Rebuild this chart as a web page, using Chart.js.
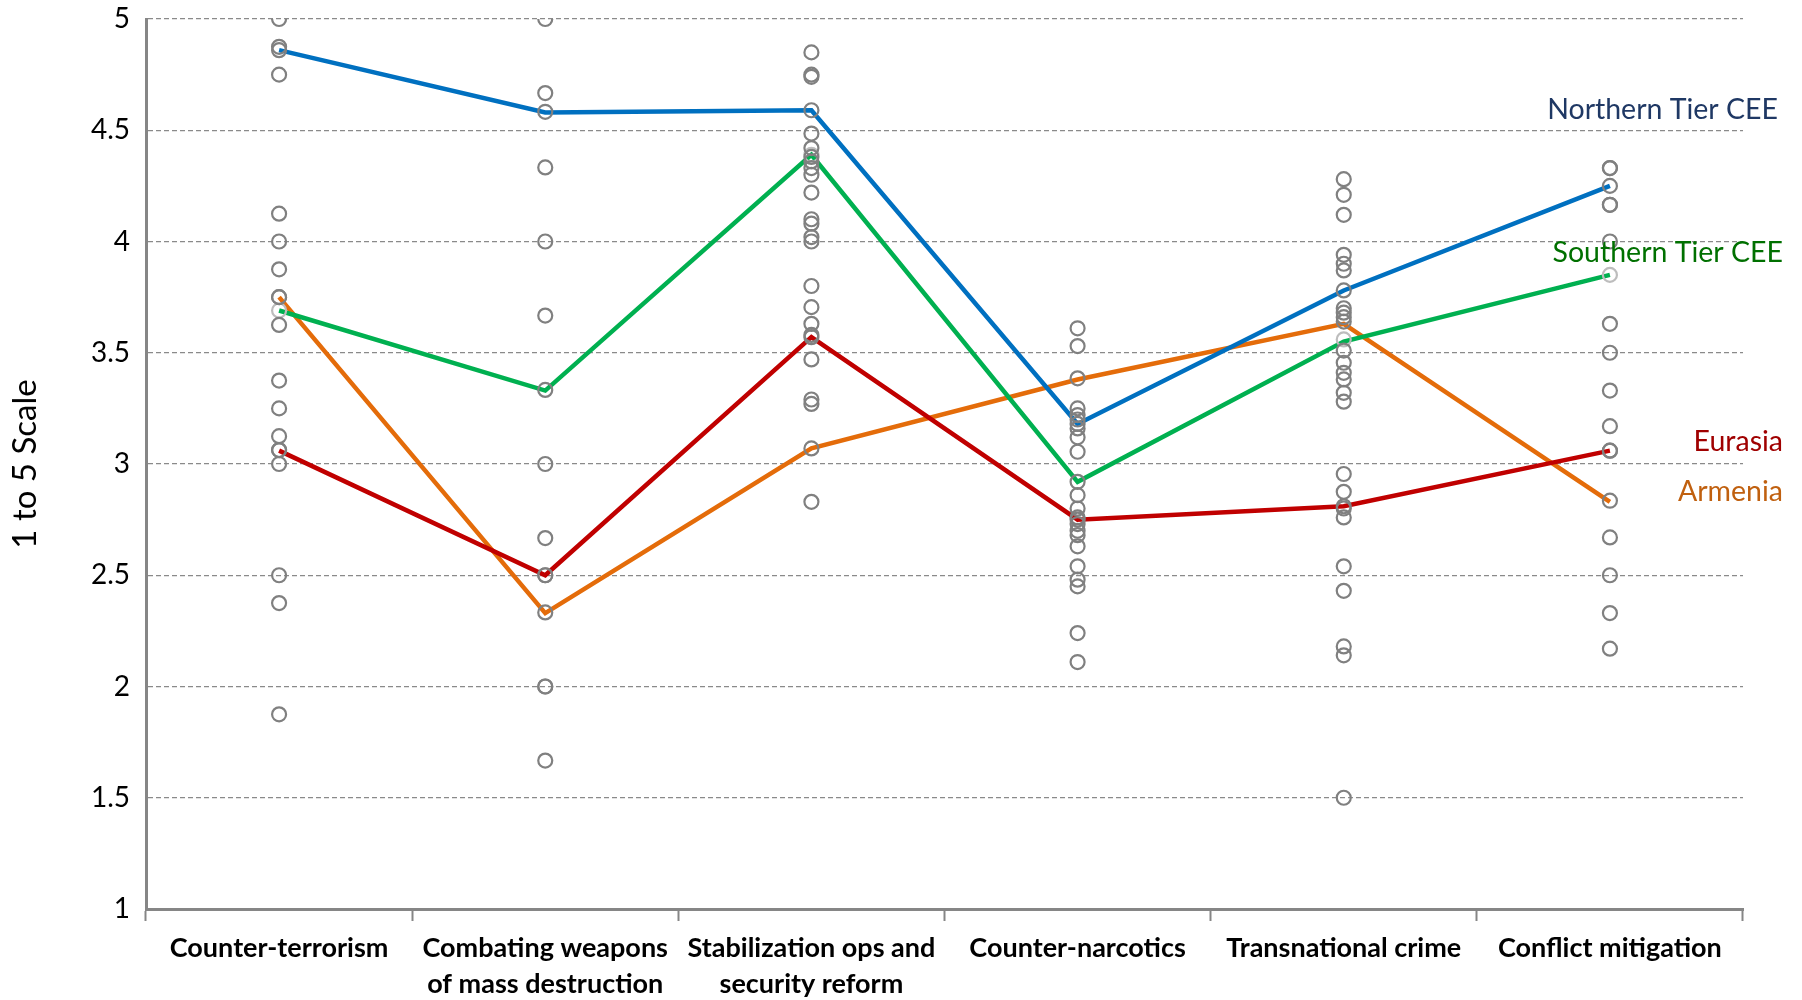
<!DOCTYPE html>
<html>
<head>
<meta charset="utf-8">
<title>Security cooperation scores</title>
<script src="https://cdn.jsdelivr.net/npm/chart.js@4.4.0/dist/chart.umd.min.js"></script>
<style>
  html, body { margin: 0; padding: 0; background: #fff; }
  #wrap { width: 1802px; height: 1000px; }
</style>
</head>
<body>
<div id="wrap"><canvas id="scoreChart" width="1802" height="1000"></canvas></div>
<script>
// Categories (x axis)
const categories = [
    'Counter-terrorism',
    ['Combating weapons', 'of mass destruction'],
    ['Stabilization ops and', 'security reform'],
    'Counter-narcotics',
    'Transnational crime',
    'Conflict mitigation'
];

// Individual country scores (grey circles), one list per category
const ctScores   = [5.0, 4.875, 4.86, 4.75, 4.125, 4.0, 3.875, 3.75, 3.75, 3.625, 3.375, 3.25, 3.125, 3.0625, 3.0625, 3.0, 2.5, 2.375, 1.875];
const wmdScores  = [5.0, 4.667, 4.583, 4.333, 4.0, 3.667, 3.333, 3.0, 2.667, 2.5, 2.5, 2.333, 2.0, 2.0, 1.667];
const stabScores = [4.85, 4.75, 4.74, 4.59, 4.485, 4.42, 4.38, 4.36, 4.33, 4.30, 4.22, 4.10, 4.08, 4.02, 4.0, 3.80, 3.705, 3.63, 3.58, 3.57, 3.47, 3.29, 3.27, 3.07, 2.83];
const narcScores = [3.61, 3.53, 3.385, 3.25, 3.22, 3.20, 3.18, 3.16, 3.12, 3.055, 2.92, 2.86, 2.80, 2.76, 2.75, 2.73, 2.70, 2.68, 2.63, 2.54, 2.48, 2.45, 2.24, 2.11];
const crimeScores = [4.28, 4.21, 4.12, 3.94, 3.90, 3.87, 3.78, 3.70, 3.68, 3.66, 3.64, 3.51, 3.455, 3.41, 3.38, 3.32, 3.28, 2.955, 2.875, 2.81, 2.80, 2.76, 2.54, 2.43, 2.18, 2.14, 1.5];
const conflictScores = [4.33, 4.33, 4.25, 4.165, 4.165, 4.0, 3.63, 3.5, 3.33, 3.17, 3.06, 3.06, 2.835, 2.67, 2.5, 2.33, 2.17];

// Lighter grey circles (sit under the Southern Tier line)
const lightCats   = [0, 2, 4, 5];
const lightScores = [3.69, 4.39, 3.56, 3.85];

// Group averages
const northernTier = [4.86, 4.58, 4.59, 3.18, 3.78, 4.25];
const southernTier = [3.69, 3.33, 4.39, 2.92, 3.55, 3.85];
const eurasia      = [3.06, 2.50, 3.57, 2.75, 2.81, 3.06];
const armenia      = [3.75, 2.33, 3.07, 3.38, 3.63, 2.83];

const seriesNames = ['Northern Tier CEE', 'Southern Tier CEE', 'Eurasia', 'Armenia'];
const lineColors  = ['#0070C0', '#00B050', '#C00000', '#E46C0A'];
const labelColors = ['#1F3864', '#007000', '#A00000', '#C0600F'];
const labelAt     = [4.59, 3.95, 3.10, 2.875];   // y value where each name sits

const yTicks = [1, 1.5, 2, 2.5, 3, 3.5, 4, 4.5, 5];

// build the scatter points (x is the category label itself, same reference)
const allScores = [ctScores, wmdScores, stabScores, narcScores, crimeScores, conflictScores];
const dotPoints = [];
allScores.forEach((list, i) => {
    list.forEach(v => dotPoints.push({ x: categories[i], y: v }));
});
const lightPoints = lightCats.map((c, i) => ({ x: categories[c], y: lightScores[i] }));

const FONT = 'Lato, "Open Sans", sans-serif';

// draws the series names at the right of the plot
const seriesLabels = {
    id: 'seriesLabels',
    afterDraw(chart) {
        const { ctx, chartArea, scales } = chart;
        ctx.save();
        ctx.font = '28.5px ' + FONT;
        ctx.textAlign = 'right';
        ctx.textBaseline = 'middle';
        seriesNames.forEach((name, i) => {
            ctx.fillStyle = labelColors[i];
            const dx = i === 0 ? 35 : 40;
            ctx.fillText(name, chartArea.right + dx, scales.y.getPixelForValue(labelAt[i]));
        });
        ctx.restore();
    }
};

const lineSet = (data, i) => ({
    type: 'line',
    label: seriesNames[i],
    data: data,
    borderColor: lineColors[i],
    backgroundColor: lineColors[i],
    borderWidth: 4.5,
    pointRadius: 0,
    tension: 0,
    order: 2 + i
});

const dotStyle = {
    type: 'line',
    showLine: false,
    pointRadius: 7,
    pointBorderWidth: 2.2,
    pointBackgroundColor: 'rgba(0,0,0,0)'
};

const ctx = document.getElementById('scoreChart').getContext('2d');

new Chart(ctx, {
    type: 'line',
    data: {
        labels: categories,
        datasets: [
            Object.assign({ label: 'Countries', data: dotPoints, pointBorderColor: '#808080', order: 0 }, dotStyle),
            Object.assign({ label: 'Countries (light)', data: lightPoints, pointBorderColor: '#BDBDBD', order: 1 }, dotStyle),
            lineSet(northernTier, 0),
            lineSet(southernTier, 1),
            lineSet(eurasia, 2),
            lineSet(armenia, 3)
        ]
    },
    options: {
        responsive: false,
        animation: false,
        devicePixelRatio: 1,
        layout: { padding: { top: 19, right: 59, left: 0, bottom: 0 } },
        plugins: {
            legend: { display: false },
            tooltip: { enabled: false }
        },
        scales: {
            x: {
                type: 'category',
                offset: true,
                afterFit: s => { s.height = 91; },
                grid: {
                    offset: true,
                    drawOnChartArea: false,
                    drawTicks: true,
                    tickLength: 12,
                    tickColor: '#868686',
                    tickWidth: 2
                },
                border: { color: '#868686', width: 3 },
                ticks: {
                    maxRotation: 0,
                    autoSkip: false,
                    padding: 9,
                    color: '#000',
                    font: { family: FONT, size: 27, weight: 'bold', lineHeight: 1.34 }
                }
            },
            y: {
                min: 1,
                max: 5,
                afterFit: s => {
                    s.width = 146;
                    s.paddingTop = 10;
                    s.paddingBottom = 10;
                },
                afterBuildTicks: s => { s.ticks = yTicks.map(v => ({ value: v })); },
                grid: {
                    color: '#8A8A8A',
                    lineWidth: 1.2,
                    drawTicks: false
                },
                border: { color: '#868686', width: 3, dash: [5, 3] },
                ticks: {
                    padding: 16,
                    color: '#000',
                    font: { family: FONT, size: 28 },
                    callback: v => String(v)
                },
                title: {
                    display: true,
                    text: '1 to 5 Scale',
                    color: '#000',
                    padding: { top: 6, bottom: 0 },
                    font: { family: FONT, size: 33 }
                }
            }
        }
    },
    plugins: [seriesLabels]
});
</script>
</body>
</html>
